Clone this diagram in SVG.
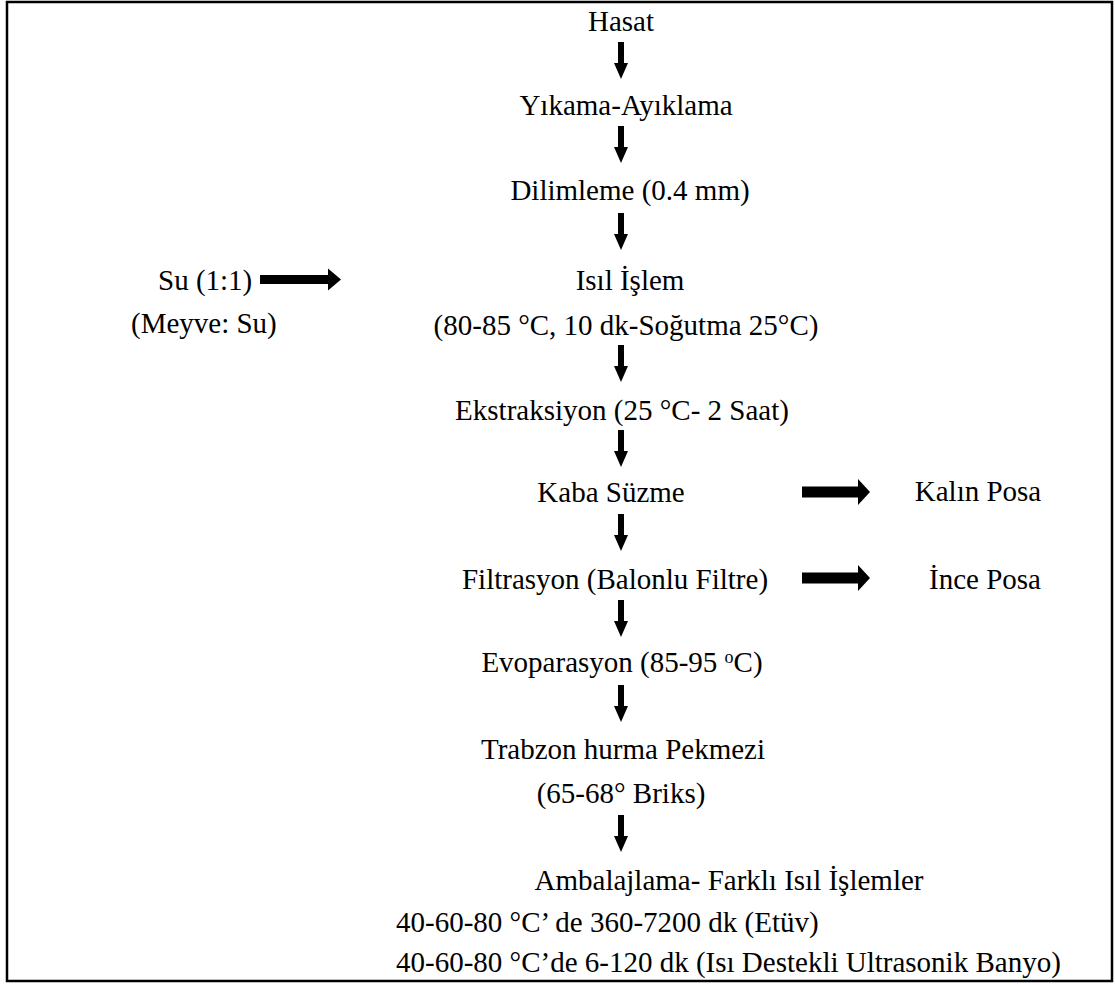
<svg xmlns="http://www.w3.org/2000/svg" width="1115" height="985" viewBox="0 0 1115 985" font-family="'Liberation Serif', 'Times New Roman', 'DejaVu Serif', serif">
<style>
text{font-family:'Liberation Serif','Times New Roman','DejaVu Serif',serif;font-size:29px;fill:#000}
.c{text-anchor:middle}
.frame{fill:none;stroke:#000;stroke-width:2.5}
.arr{fill:#000}
</style>
<defs>
<path id="dn" d="M-3,0 H3 V21 H7 L0,37 L-7,21 H-3 Z"/>
<path id="rt" d="M0,-5.5 H56 V-13 L68,0 L56,13 V5.5 H0 Z"/>
</defs>
<rect class="frame" x="7" y="2" width="1105" height="979"/>
<g id="connectors" class="arr">
<use href="#dn" x="621" y="42"/>
<use href="#dn" x="621" y="126"/>
<use href="#dn" x="621" y="213"/>
<use href="#dn" x="621" y="345"/>
<use href="#dn" x="621" y="430"/>
<use href="#dn" x="621" y="514"/>
<use href="#dn" x="621" y="600"/>
<use href="#dn" x="621" y="685"/>
<use href="#dn" x="621" y="815"/>
<path d="M260,275 H328 V268.5 L341,279.5 L328,290.5 V284 H260 Z"/>
<use href="#rt" x="802" y="492"/>
<use href="#rt" x="802" y="578"/>
</g>
<g id="n1"><text class="c" x="621" y="31">Hasat</text></g>
<g id="n2"><text class="c" x="626" y="115">Yıkama-Ayıklama</text></g>
<g id="n3"><text class="c" x="630" y="200">Dilimleme (0.4 mm)</text></g>
<g id="n4"><text class="c" x="630" y="290">Isıl İşlem</text><text class="c" x="626" y="335">(80-85 °C, 10 dk-Soğutma 25°C)</text></g>
<g id="side1"><text x="158" y="290">Su (1:1)</text><text x="131" y="333">(Meyve: Su)</text></g>
<g id="n5"><text class="c" x="622" y="420">Ekstraksiyon (25 °C- 2 Saat)</text></g>
<g id="n6"><text class="c" x="611" y="502">Kaba Süzme</text></g>
<g id="out1"><text class="c" x="978" y="501">Kalın Posa</text></g>
<g id="n7"><text class="c" x="615" y="589">Filtrasyon (Balonlu Filtre)</text></g>
<g id="out2"><text class="c" x="985" y="589">İnce Posa</text></g>
<g id="n8"><text class="c" x="622" y="672">Evoparasyon (85-95 <tspan font-size="18" dy="-9">o</tspan><tspan dy="9">C)</tspan></text></g>
<g id="n9"><text class="c" x="623" y="759">Trabzon hurma Pekmezi</text><text class="c" x="621" y="803">(65-68° Briks)</text></g>
<g id="n10"><text class="c" x="729" y="890">Ambalajlama- Farklı Isıl İşlemler</text>
<text x="396" y="932">40-60-80 °C’ de 360-7200 dk (Etüv)</text>
<text x="396" y="972">40-60-80 °C’de 6-120 dk (Isı Destekli Ultrasonik Banyo)</text></g>
</svg>
